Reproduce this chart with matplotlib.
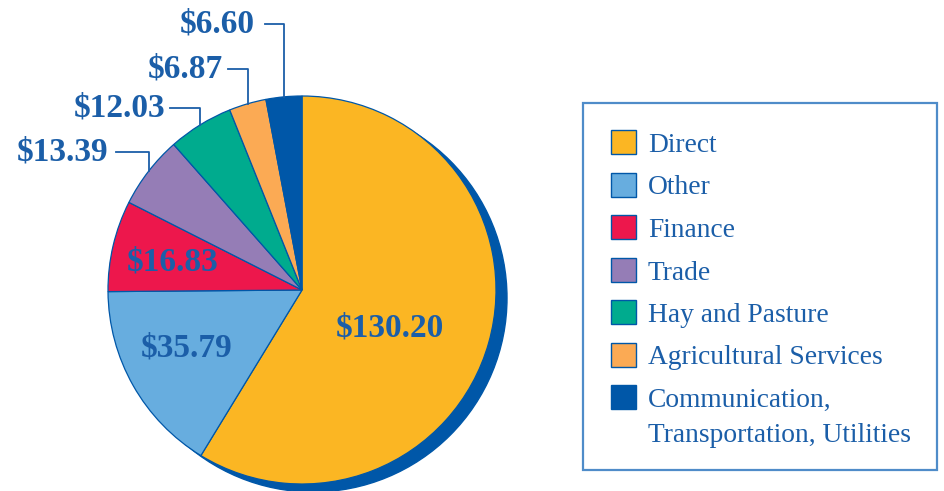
import numpy as np
import matplotlib.pyplot as plt
from matplotlib.patches import Circle, Rectangle

# Data
categories = ["Direct", "Other", "Finance", "Trade", "Hay and Pasture",
              "Agricultural Services", "Communication,\nTransportation, Utilities"]
values = [130.20, 35.79, 16.83, 13.39, 12.03, 6.87, 6.60]
colors = ["#FBB623", "#67ADDF", "#ED174C", "#957DB6", "#00AB8E", "#FBAA54", "#0057A8"]

txt_color = "#1b5ea8"
edge_color = "#0057A8"
plt.rcParams['font.family'] = ['Liberation Serif', 'DejaVu Serif']

W, H = 944, 491
fig = plt.figure(figsize=(W / 100, H / 100), dpi=100)
ax = fig.add_axes([0, 0, 1, 1])

cx, cy, r = 302, 290, 194

# shadow behind the pie
ax.add_patch(Circle((cx + 11, cy + 8), r, color=edge_color, zorder=0))

wedges, _ = ax.pie(values, colors=colors, startangle=-90, counterclock=True,
                   center=(cx, cy), radius=r, frame=True,
                   wedgeprops=dict(edgecolor=edge_color, linewidth=0.9))
ax.set_xlim(0, W)
ax.set_ylim(H, 0)
ax.set_aspect('equal')
ax.axis('off')

# labels inside the big slices
inside = {0: (390, 328), 1: (187, 348), 2: (173, 262)}
for i, (x, y) in inside.items():
    ax.text(x, y, f"${values[i]:.2f}", ha='center', va='center',
            fontsize=24, fontweight='bold', color=txt_color)

# outside labels with leader lines: (label y, text right edge, line start)
outside = {3: (152, 108, 116), 4: (108, 165, 170), 5: (69, 223, 228), 6: (24, 255, 265)}
for i, (ly, tx, lx) in outside.items():
    w = wedges[i]
    th = np.deg2rad((w.theta1 + w.theta2) / 2)
    ex = cx + r * np.cos(th)
    ey = cy + r * np.sin(th)
    ax.plot([lx, ex, ex], [ly, ly, ey], color=txt_color, lw=1.3, zorder=3)
    ax.text(tx, ly, f"${values[i]:.2f}", ha='right', va='center',
            fontsize=24, fontweight='bold', color=txt_color)

# legend box drawn by hand
ax.add_patch(Rectangle((583, 103), 354, 367, fill=False, edgecolor="#4f8cc9",
                       lw=1.6, zorder=2))
row_y = 142
for name, c in zip(categories, colors):
    ax.add_patch(Rectangle((611, row_y - 12), 25, 24, facecolor=c,
                           edgecolor=edge_color, lw=1.0, zorder=3))
    for j, line in enumerate(name.split("\n")):
        ax.text(648, row_y + 10 + j * 35, line, ha='left', va='baseline',
                fontsize=19.8, color=txt_color)
    row_y += 42.5

fig.savefig("out.png", dpi=100)
